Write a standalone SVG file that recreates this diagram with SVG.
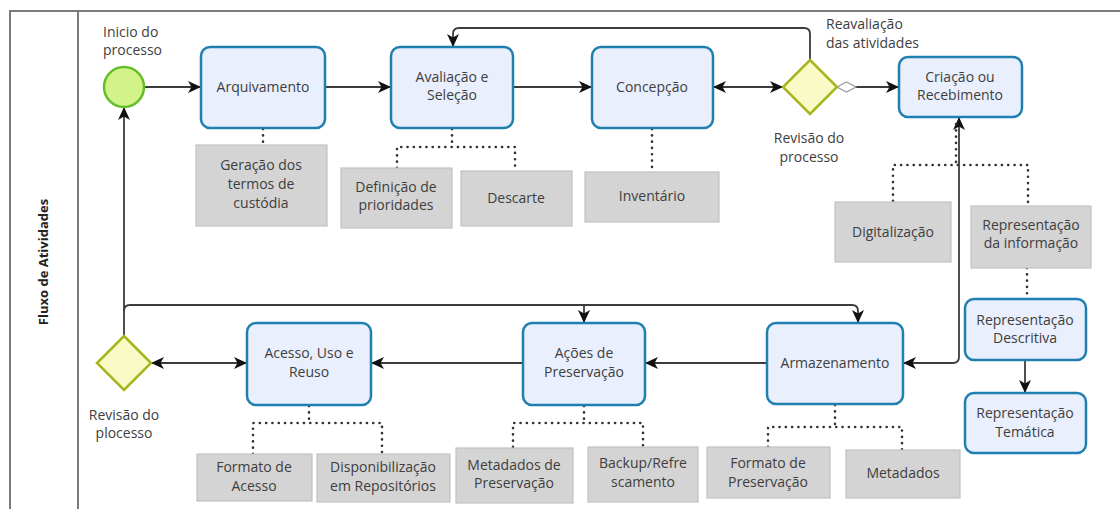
<svg xmlns="http://www.w3.org/2000/svg" width="1120" height="509" viewBox="0 0 1120 509">
<style>
.bg{fill:#ffffff}
.frame{fill:none;stroke:#7a7a7a;stroke-width:2}
.task{fill:#e9effd;stroke:#1f7fae;stroke-width:2.5}
.note{fill:#d4d4d4;stroke:#c2c2c2;stroke-width:1.2}
.gw{fill:#fafac6;stroke:#a6b51c;stroke-width:2.5}
.start{fill:#d2f38a;stroke:#66bd2c;stroke-width:2.5}
.flow{fill:none;stroke:#3c3c3c;stroke-width:1.8}
.dot{fill:none;stroke:#333;stroke-width:2.6;stroke-linecap:round;stroke-dasharray:0.1 6.2}
text{font-family:"Open Sans","Noto Sans","Liberation Sans",sans-serif;font-size:14px;fill:#3e3e3e;text-anchor:middle}
.lane{font-weight:bold;font-size:13px;fill:#222}
.lft{text-anchor:start}
</style>
<defs>
<marker id="arr" markerUnits="userSpaceOnUse" markerWidth="14" markerHeight="12" refX="13" refY="6" orient="auto-start-reverse">
<path d="M0,0 L13,6 L0,12 L3.5,6 z" fill="#111"/>
</marker>
<marker id="cond" markerUnits="userSpaceOnUse" markerWidth="22" markerHeight="12" refX="1" refY="6" orient="auto">
<path d="M1,6 L10.5,1 L20,6 L10.5,11 z" fill="#fff" stroke="#9a9a9a" stroke-width="1.2"/>
</marker>
</defs>
<rect class="bg" x="0" y="0" width="1120" height="509"/>
<g id="pool">
<path class="frame" d="M10,509 V11 H1120 M78,11 V509"/>
<text class="lane" transform="translate(48,262) rotate(-90)">Fluxo de Atividades</text>
</g>
<g id="connectors">
<path class="flow" d="M143,87 H201" marker-end="url(#arr)"/>
<path class="flow" d="M325,87 H391" marker-end="url(#arr)"/>
<path class="flow" d="M513,87 H592" marker-end="url(#arr)"/>
<path class="flow" d="M713,87 H783" marker-start="url(#arr)" marker-end="url(#arr)"/>
<path class="flow" d="M837,87 H899" marker-start="url(#cond)" marker-end="url(#arr)"/>
<path class="flow" d="M810,60 V34 Q810,28 804,28 H459 Q453,28 453,34 V47" marker-end="url(#arr)"/>
<path class="flow" d="M124,337 V107" marker-end="url(#arr)"/>
<path class="flow" d="M124,311 Q124,305 130,305 H852 Q858,305 858,311 V323" marker-end="url(#arr)"/>
<path class="flow" d="M584,305 V323" marker-end="url(#arr)"/>
<path class="flow" d="M151,363 H247" marker-start="url(#arr)" marker-end="url(#arr)"/>
<path class="flow" d="M523,363 H371" marker-end="url(#arr)"/>
<path class="flow" d="M767,363 H645" marker-end="url(#arr)"/>
<path class="flow" d="M959,117 V357 Q959,363 953,363 H903" marker-start="url(#arr)" marker-end="url(#arr)"/>
<path class="flow" d="M1025,360 V393" marker-end="url(#arr)"/>
<path class="dot" d="M263,129 V145"/>
<path class="dot" d="M452,129 V147 M397,168 V147 H515 V170"/>
<path class="dot" d="M652,129 V172"/>
<path class="dot" d="M956,124 V165 M893,201 V165 H1028 V206"/>
<path class="dot" d="M1027,268 V299"/>
<path class="dot" d="M309,406 V423 M253,454 V423 H382 V454"/>
<path class="dot" d="M584,406 V423 M513,447 V423 H643 V447"/>
<path class="dot" d="M835,405 V427 M768,447 V427 H902 V450"/>
</g>
<g id="inicio">
<circle class="start" cx="124" cy="87" r="20"/>
<text class="lft" x="103" y="37">Inicio do</text>
<text class="lft" x="103" y="55">processo</text>
</g>
<g id="arquivamento">
<rect class="task" x="201" y="47" width="124" height="81" rx="9"/>
<text x="263" y="92">Arquivamento</text>
</g>
<g id="avaliacao">
<rect class="task" x="391" y="47" width="122" height="81" rx="9"/>
<text x="452" y="82">Avaliação e</text>
<text x="452" y="100">Seleção</text>
</g>
<g id="concepcao">
<rect class="task" x="592" y="47" width="121" height="81" rx="9"/>
<text x="652" y="92">Concepção</text>
</g>
<g id="revisao1">
<path class="gw" d="M810,60 L837,87 L810,114 L783,87 z"/>
<text x="809" y="143">Revisão do</text>
<text x="809" y="162">processo</text>
</g>
<g id="reavaliacao">
<text class="lft" x="826" y="29">Reavaliação</text>
<text class="lft" x="826" y="48">das atividades</text>
</g>
<g id="criacao">
<rect class="task" x="899" y="57" width="123" height="60" rx="9"/>
<text x="960" y="82">Criação ou</text>
<text x="960" y="100">Recebimento</text>
</g>
<g id="geracao">
<rect class="note" x="196" y="145" width="131" height="81"/>
<text x="261" y="170">Geração dos</text>
<text x="261" y="189">termos de</text>
<text x="261" y="208">custódia</text>
</g>
<g id="definicao">
<rect class="note" x="341" y="168" width="111" height="60"/>
<text x="396" y="192">Definição de</text>
<text x="396" y="210">prioridades</text>
</g>
<g id="descarte">
<rect class="note" x="461" y="171" width="111" height="55"/>
<text x="516" y="203">Descarte</text>
</g>
<g id="inventario">
<rect class="note" x="585" y="172" width="134" height="50"/>
<text x="652" y="201">Inventário</text>
</g>
<g id="digitalizacao">
<rect class="note" x="835" y="202" width="116" height="60"/>
<text x="893" y="237">Digitalização</text>
</g>
<g id="repinformacao">
<rect class="note" x="971" y="206" width="120" height="62"/>
<text x="1031" y="230">Representação</text>
<text x="1031" y="248">da informação</text>
</g>
<g id="repdescritiva">
<rect class="task" x="965" y="299" width="121" height="61" rx="9"/>
<text x="1025" y="325">Representação</text>
<text x="1025" y="343">Descritiva</text>
</g>
<g id="reptematica">
<rect class="task" x="965" y="393" width="121" height="60" rx="9"/>
<text x="1025" y="418">Representação</text>
<text x="1025" y="437">Temática</text>
</g>
<g id="revisao2">
<path class="gw" d="M124,336 L151,363 L124,390 L97,363 z"/>
<text x="124" y="420">Revisão do</text>
<text x="124" y="438">plocesso</text>
</g>
<g id="acesso">
<rect class="task" x="247" y="323" width="124" height="82" rx="9"/>
<text x="309" y="358">Acesso, Uso e</text>
<text x="309" y="377">Reuso</text>
</g>
<g id="acoes">
<rect class="task" x="523" y="323" width="122" height="82" rx="9"/>
<text x="584" y="358">Ações de</text>
<text x="584" y="377">Preservação</text>
</g>
<g id="armazenamento">
<rect class="task" x="767" y="323" width="136" height="81" rx="9"/>
<text x="835" y="368">Armazenamento</text>
</g>
<g id="formatoacesso">
<rect class="note" x="197" y="454" width="115" height="47"/>
<text x="254" y="472">Formato de</text>
<text x="254" y="491">Acesso</text>
</g>
<g id="disponibilizacao">
<rect class="note" x="317" y="454" width="133" height="48"/>
<text x="383" y="472">Disponibilização</text>
<text x="383" y="491">em Repositórios</text>
</g>
<g id="metadadospres">
<rect class="note" x="456" y="448" width="117" height="55"/>
<text x="514" y="470">Metadados de</text>
<text x="514" y="488">Preservação</text>
</g>
<g id="backup">
<rect class="note" x="588" y="447" width="110" height="55"/>
<text x="643" y="468">Backup/Refre</text>
<text x="643" y="487">scamento</text>
</g>
<g id="formatopres">
<rect class="note" x="707" y="447" width="123" height="51"/>
<text x="768" y="468">Formato de</text>
<text x="768" y="487">Preservação</text>
</g>
<g id="metadados">
<rect class="note" x="846" y="450" width="114" height="48"/>
<text x="903" y="478">Metadados</text>
</g>
</svg>
